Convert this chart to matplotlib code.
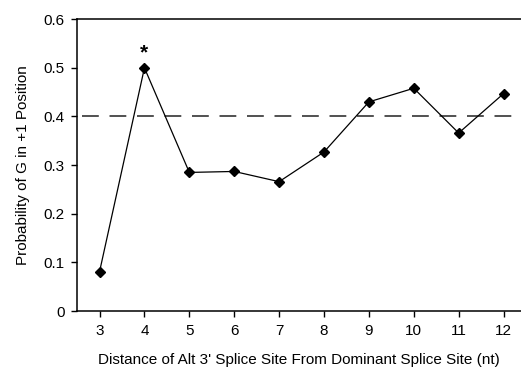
import matplotlib
matplotlib.use("Agg")
import matplotlib.pyplot as plt

# distance (nt) and probability of G at +1
distance = [3, 4, 5, 6, 7, 8, 9, 10, 11, 12]
prob_g = [0.081, 0.500, 0.285, 0.287, 0.266, 0.327, 0.430, 0.458, 0.366, 0.447]
baseline = 0.402
star_at = 4
yticks = [0, 0.1, 0.2, 0.3, 0.4, 0.5, 0.6]
ytick_labels = ["0", "0.1", "0.2", "0.3", "0.4", "0.5", "0.6"]

plt.rcParams.update({
    "font.family": ["Liberation Sans", "DejaVu Sans"],
    "font.size": 11,
})

fig = plt.figure(figsize=(5.21, 3.69), dpi=100)
ax = fig.add_axes([0.148, 0.157, 0.853, 0.791])

ax.axhline(baseline, color="#222222", lw=1.1, ls=(0, (11, 7)), xmin=0.01)
ax.plot(distance, prob_g, color="black", lw=0.9, marker="D", markersize=5.5,
        markerfacecolor="black", markeredgecolor="black")
ax.text(star_at, prob_g[distance.index(star_at)] + 0.012, "*", ha="center",
        va="bottom", fontsize=15, fontweight="bold")

ax.set_xlim(2.5, 12.4)
ax.set_ylim(0, 0.6)
ax.set_xticks(distance)
ax.set_xticklabels([str(d) for d in distance])
ax.set_yticks(yticks)
ax.set_yticklabels(ytick_labels)
ax.tick_params(direction="out", length=4, width=1, pad=5)
for s in ax.spines.values():
    s.set_linewidth(1.1)

ax.set_xlabel("Distance of Alt 3' Splice Site From Dominant Splice Site (nt)", labelpad=11)
ax.set_ylabel("Probability of G in +1 Position", labelpad=10)

fig.savefig("out.png", dpi=100)
